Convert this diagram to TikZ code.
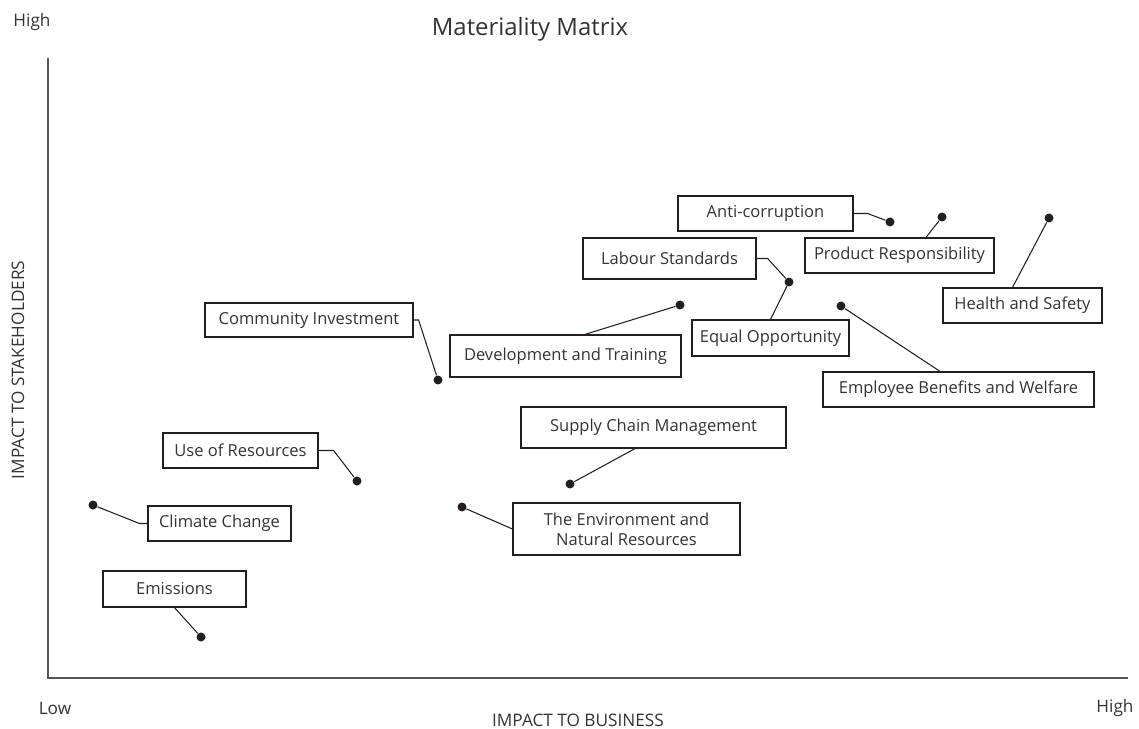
\documentclass[tikz,border=0pt]{standalone}
\usepackage{fontspec}
\setmainfont{Open Sans}
\definecolor{ink}{HTML}{231F20}
\definecolor{txt}{HTML}{333333}
\definecolor{axis}{HTML}{595454}
\begin{document}
\begin{tikzpicture}[
	x=0.02cm,
	y=-0.02cm,
	font=\fontsize{9.4}{11.4}\selectfont,
	lbl/.style={draw=ink,line width=0.7pt,text=txt,minimum height=0.7cm,inner sep=2pt,align=center},
	dot/.style={circle,fill=ink,inner sep=0pt,minimum size=0.18cm},
	tag/.style={text=txt,font=\fontsize{9.8}{11.8}\selectfont},
	link/.style={ink,line width=0.6pt},
	]
\useasboundingbox (0,0) rectangle (1139,729);
\draw [axis,line width=0.8pt] (48,58) -- (48,678) -- (1128,678);
\node [text=txt,font=\fontsize{13.6}{16}\selectfont] (title) at (530,29) {Materiality Matrix};
\node [tag] (yhigh) at (32,22) {High};
\node [tag] (xlow) at (55,708) {Low};
\node [tag] (xhigh) at (1115,708) {High};
\node [tag] (xname) at (578,720) {IMPACT TO BUSINESS};
\node [tag,rotate=90] (yname) at (18,370) {IMPACT TO STAKEHOLDERS};
\node [lbl,minimum width=3.5cm] (anti) at (765.5,213.5) {Anti-corruption};
\node [lbl,minimum width=3.78cm] (prod) at (899.5,255.5) {Product Responsibility};
\node [lbl,minimum width=3.46cm,minimum height=0.82cm] (labour) at (669.5,258.5) {Labour Standards};
\node [lbl,minimum width=3.14cm,minimum height=0.72cm] (equal) at (770.5,338) {Equal Opportunity};
\node [lbl,minimum width=3.18cm] (health) at (1022.5,305.5) {Health and Safety};
\node [lbl,minimum width=5.42cm] (benefit) at (958.5,389.5) {Employee Benefits and Welfare};
\node [lbl,minimum width=4.16cm,minimum height=0.68cm] (commun) at (309,320) {Community Investment};
\node [lbl,minimum width=4.62cm,minimum height=0.84cm] (devel) at (565.5,356) {Development and Training};
\node [lbl,minimum width=5.3cm,minimum height=0.82cm] (supply) at (653.5,427.5) {Supply Chain Management};
\node [lbl,minimum width=4.54cm,minimum height=1.04cm] (environ) at (626.5,529) {The Environment and\\Natural Resources};
\node [lbl,minimum width=3.1cm] (resour) at (240.5,450.5) {Use of Resources};
\node [lbl,minimum width=2.86cm] (climate) at (219.5,523.5) {Climate Change};
\node [lbl,minimum width=2.86cm,minimum height=0.72cm] (emiss) at (174.5,589) {Emissions};
\node [dot] (d-anti) at (890,222) {};
\node [dot] (d-prod) at (942,217) {};
\node [dot] (d-labour) at (789,282) {};
\node [dot] (d-health) at (1049,218) {};
\node [dot] (d-benefit) at (841,306) {};
\node [dot] (d-commun) at (438,380) {};
\node [dot] (d-devel) at (680,305) {};
\node [dot] (d-supply) at (570,484) {};
\node [dot] (d-environ) at (462,507) {};
\node [dot] (d-resour) at (357,481) {};
\node [dot] (d-climate) at (93,505) {};
\node [dot] (d-emiss) at (201,637) {};
\draw [link] (anti.east) -- ++(14,0) -- (d-anti);
\draw [link] ([xshift=0.53cm]prod.north) -- (d-prod);
\draw [link] (labour.east) -- ++(11,0) -- (d-labour);
\draw [link] (equal.north) -- (d-labour);
\draw [link] ([xshift=-0.2cm]health.north) -- (d-health);
\draw [link] ([xshift=-0.37cm]benefit.north) -- (d-benefit);
\draw [link] (commun.east) -- ++(5,0) -- (d-commun);
\draw [link] ([xshift=0.39cm]devel.north) -- (d-devel);
\draw [link] ([xshift=-0.37cm]supply.south) -- (d-supply);
\draw [link] (environ.west) -- (d-environ);
\draw [link] (resour.east) -- ++(15,0) -- (d-resour);
\draw [link] (climate.west) -- ++(-8,0) -- (d-climate);
\draw [link] (emiss.south) -- (d-emiss);
\end{tikzpicture}
\end{document}
